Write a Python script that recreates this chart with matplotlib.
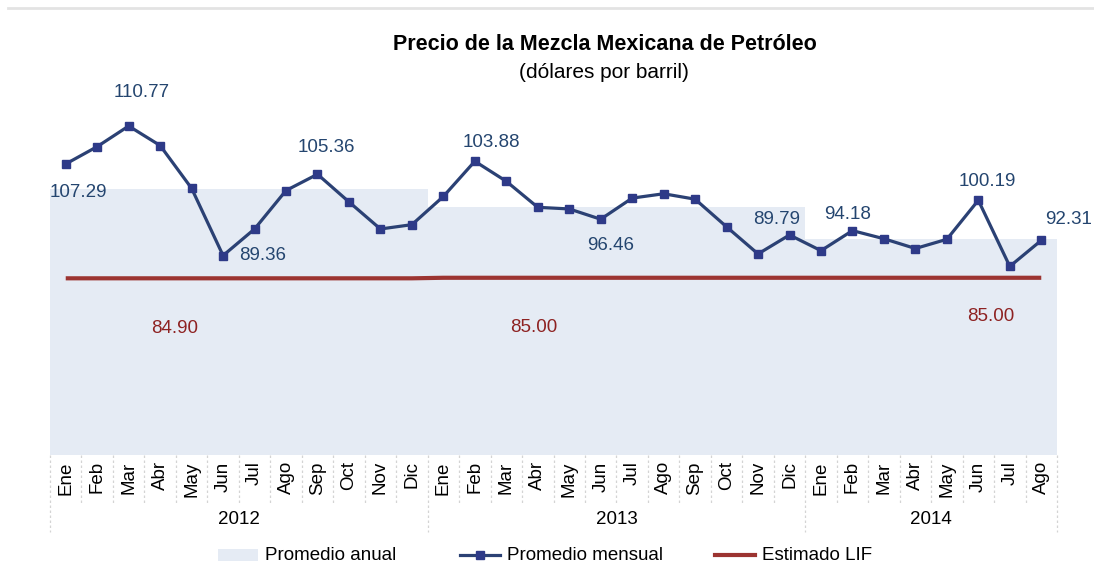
import matplotlib
matplotlib.use("Agg")
import matplotlib.pyplot as plt
from matplotlib.patches import Rectangle
from matplotlib.lines import Line2D
import numpy as np

plt.rcParams['font.family'] = ['Liberation Sans', 'DejaVu Sans']

# data
years = ['2012', '2013', '2014']
months_per_year = [12, 12, 8]
month_names = ['Ene', 'Feb', 'Mar', 'Abr', 'May', 'Jun',
               'Jul', 'Ago', 'Sep', 'Oct', 'Nov', 'Dic']
monthly = [106.0, 109.2, 113.0, 109.4, 101.5, 89.1, 94.0, 101.1, 104.1, 99.0, 94.0, 94.8,
           100.0, 106.5, 102.8, 98.0, 97.7, 95.8, 99.7, 100.5, 99.5, 94.4, 89.4, 92.9,
           90.0, 93.7, 92.2, 90.4, 92.1, 99.3, 87.1, 91.9]
annual_avg = [101.4, 98.0, 92.2]
lif = [84.90, 85.00, 85.00]

# data labels: (month index, text)
monthly_labels = [(0, '107.29'), (2, '110.77'), (5, '89.36'), (8, '105.36'),
                  (13, '103.88'), (17, '96.46'), (23, '89.79'), (25, '94.18'),
                  (29, '100.19'), (31, '92.31')]
lif_labels = [(4, '84.90'), (15, '85.00'), (29, '85.00')]

# label offsets in pixels (layout only)
monthly_offsets = [(13, -29), (13, 34), (40, 0), (9, 27), (17, 19),
                   (10, -26), (-13, 15), (-5, 16), (9, 19), (27, 21)]
lif_offsets = [(-17, -50), (-4, -50), (12, -39)]

BLUE_LINE = '#2b4174'
BLUE_MARK = '#2e3a88'
BLUE_TXT = '#24456f'
RED = '#9c3431'
RED_TXT = '#8e2222'
SHADE = '#e5ebf4'
GRID = '#d4d4d4'

W, H = 1094, 579
fig = plt.figure(figsize=(W / 100, H / 100), dpi=100)

ax_l, ax_r, ax_t, ax_b = 50, 1057, 100, 455
ax = fig.add_axes([ax_l / W, (H - ax_b) / H, (ax_r - ax_l) / W, (ax_b - ax_t) / H])
y0, y1 = 52.3, 117.8
ax.set_ylim(y0, y1)
n = len(monthly)
x = np.arange(n)
ax.set_xlim(-0.5, n - 0.5)


def frac(py):
    # pixel row -> axes fraction
    return (ax_b - py) / (ax_b - ax_t)


# annual average shading
starts = np.cumsum([0] + months_per_year[:-1])
for s, c, a in zip(starts, months_per_year, annual_avg):
    ax.bar(s - 0.5, a - y0, width=c, bottom=y0, align='edge',
           color=SHADE, linewidth=0, zorder=1)

# LIF estimate line
lif_monthly = np.repeat(lif, months_per_year)
ax.plot(x, lif_monthly, color=RED, lw=3.0, zorder=2, solid_capstyle='butt')

# monthly price
ax.plot(x, monthly, color=BLUE_LINE, lw=2.3, zorder=3,
        marker='s', ms=5.5, mfc=BLUE_MARK, mec=BLUE_MARK)

for (i, t), (dx, dy) in zip(monthly_labels, monthly_offsets):
    ax.annotate(t, (i, monthly[i]), xytext=(dx, dy), textcoords='offset pixels',
                ha='center', va='center', fontsize=13.5, color=BLUE_TXT, zorder=5)

for (i, t), (dx, dy) in zip(lif_labels, lif_offsets):
    ax.annotate(t, (i, lif_monthly[i]), xytext=(dx, dy), textcoords='offset pixels',
                ha='center', va='center', fontsize=13.5, color=RED_TXT, zorder=5)

for sp in ax.spines.values():
    sp.set_visible(False)
ax.set_yticks([])

month_ticks = []
for c in months_per_year:
    month_ticks += month_names[:c]
ax.set_xticks(x, month_ticks, rotation=90, fontsize=13.5)
ax.tick_params(axis='x', length=0, pad=4.5)

# category separators
tr = ax.get_xaxis_transform()
year_edges = list(starts - 0.5) + [n - 0.5]
for k in range(n + 1):
    b = k - 0.5
    low = frac(532) if b in year_edges else frac(504)
    ax.plot([b, b], [0, low], transform=tr, clip_on=False,
            color=GRID, lw=0.9, ls=(0, (2, 2)))

for s, c, yr in zip(starts, months_per_year, years):
    ax.text(s - 0.5 + c / 2, frac(519), yr, transform=tr,
            ha='center', va='center', fontsize=13.5)

# overlay in pixel units for title, frame line and legend
ov = fig.add_axes([0, 0, 1, 1], zorder=-1)
ov.set_xlim(0, W)
ov.set_ylim(H, 0)
ov.axis('off')
ov.plot([8, W], [8, 8], color='#e3e3e3', lw=2)
ov.text(605, 44, 'Precio de la Mezcla Mexicana de Petróleo', ha='center', va='center',
        fontsize=15.5, fontweight='bold')
ov.text(604, 72, '(dólares por barril)', ha='center', va='center', fontsize=15)

ly = 555
ov.add_patch(Rectangle((218, ly - 6), 40, 12, color=SHADE, lw=0))
ov.text(265, ly, 'Promedio anual', va='center', fontsize=13.5)
ov.add_line(Line2D([460, 500], [ly, ly], color=BLUE_LINE, lw=2.3))
ov.add_line(Line2D([480], [ly], marker='s', ms=5.5, mfc=BLUE_MARK, mec=BLUE_MARK))
ov.text(507, ly, 'Promedio mensual', va='center', fontsize=13.5)
ov.add_line(Line2D([715, 755], [ly, ly], color=RED, lw=3.0))
ov.text(762, ly, 'Estimado LIF', va='center', fontsize=13.5)

fig.savefig('out.png', dpi=100)
